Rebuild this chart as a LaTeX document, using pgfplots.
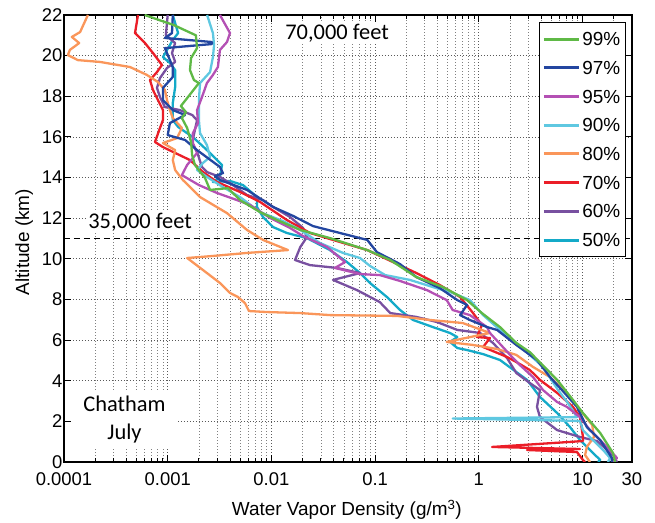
\documentclass[border=0pt]{standalone}
\usepackage{fontspec}
\setmainfont{Liberation Sans}
\newfontfamily\calibri{Carlito}
\usepackage{pgfplots}
\usepackage{pgfplotstable}
\pgfplotsset{compat=1.18}

\definecolor{c99}{RGB}{95,185,70}
\definecolor{c97}{RGB}{35,70,160}
\definecolor{c95}{RGB}{180,80,180}
\definecolor{c90}{RGB}{95,200,225}
\definecolor{c80}{RGB}{250,150,90}
\definecolor{c70}{RGB}{235,30,40}
\definecolor{c60}{RGB}{120,80,160}
\definecolor{c50}{RGB}{20,170,200}

\pgfplotstableread{
x y
6.0e-4 22.0
1.15e-3 21.5
1.87e-3 21.0
1.92e-3 20.37
1.68e-3 19.88
1.64e-3 19.29
1.79e-3 18.80
2.0e-3 18.65
1.54e-3 17.91
1.34e-3 17.52
1.50e-3 17.22
1.37e-3 16.93
1.54e-3 16.44
1.68e-3 15.75
1.72e-3 15.11
1.83e-3 14.62
2.29e-3 13.98
2.56e-3 13.39
3.81e-3 13.48
4.98e-3 12.89
7.76e-3 12.30
0.0113 11.91
0.019 11.42
0.0367 11.02
0.084 10.43
0.14 9.94
0.25 9.10
0.45 8.61
0.77 7.97
1.07 7.33
1.6 6.64
2.3 5.86
3.1 5.41
5.7 4.04
8.1 3.05
10.1 2.41
14.8 1.43
19.7 0.44
20.6 0.0
}\tnn

\pgfplotstableread{
x y
1.12e-3 22.0
1.10e-3 21.11
9.4e-4 20.87
2.67e-3 20.67
2.67e-3 20.57
9.4e-4 20.37
1.12e-3 19.44
1.12e-3 18.95
9.0e-4 18.41
9.0e-4 17.81
1.12e-3 17.32
1.47e-3 17.08
1.05e-3 16.68
1.0e-3 16.09
1.47e-3 15.85
1.92e-3 15.35
3.19e-3 14.52
3.41e-3 14.22
2.86e-3 14.07
3.19e-3 13.88
5.82e-3 13.39
0.0104 12.55
0.0162 12.11
0.0252 11.61
0.0459 11.27
0.084 10.93
0.104 10.33
0.174 9.74
0.25 9.10
0.42 8.56
0.62 7.97
0.77 7.73
0.66 7.23
0.82 6.99
1.20 6.64
1.50 6.50
2.3 5.76
3.64 5.02
4.86 4.18
6.34 3.54
8.85 2.71
11.0 1.72
14.8 1.08
19.2 0.2
19.2 0.0
}\tns

\pgfplotstableread{
x y
3.19e-3 22.0
3.99e-3 21.11
3.73e-3 20.67
3.19e-3 20.28
3.05e-3 19.44
2.73e-3 19.05
2.39e-3 18.65
2.14e-3 17.96
1.92e-3 17.32
1.96e-3 16.68
1.75e-3 16.19
1.75e-3 15.70
1.92e-3 15.21
1.54e-3 14.62
1.37e-3 14.12
2.0e-3 13.63
2.99e-3 13.24
4.66e-3 12.89
6.22e-3 12.65
9.7e-3 12.01
0.0151 11.52
0.0202 11.12
0.0344 10.58
0.0459 10.04
0.0513 9.84
0.041 9.55
0.0715 9.25
0.111 9.20
0.174 8.91
0.316 8.46
0.49 7.97
0.56 7.48
0.82 7.23
1.20 6.64
1.28 6.35
2.09 5.17
2.49 4.77
3.33 4.18
4.16 3.54
5.7 2.95
7.08 2.71
9.46 2.21
11.8 1.57
14.8 1.08
21.5 0.2
19.7 0.0
}\tnf

\pgfplotstableread{
x y
2.4e-3 22.0
2.73e-3 21.11
2.80e-3 20.52
2.73e-3 19.93
2.56e-3 19.19
2.05e-3 18.65
2.0e-3 17.81
2.0e-3 16.83
2.05e-3 16.19
2.39e-3 15.60
2.56e-3 15.01
2.19e-3 14.72
1.92e-3 14.37
2.39e-3 14.03
3.41e-3 13.53
4.98e-3 13.04
7.76e-3 12.30
0.0129 11.86
0.019 11.42
0.0294 10.78
0.049 10.29
0.0715 10.04
0.0893 9.65
0.125 9.20
0.217 8.96
0.361 8.61
0.56 8.32
0.82 7.97
1.10 7.23
1.6 6.50
2.3 5.86
4.16 4.68
5.81 3.54
7.24 2.90
8.85 2.21
0.56 2.14
9.46 2.02
10.1 1.57
12.6 1.08
15.8 0.59
18.4 0.2
17.6 0.0
}\tninety

\pgfplotstableread{
x y
1.70e-4 22.0
1.43e-4 21.16
1.19e-4 20.92
1.40e-4 20.62
1.14e-4 20.28
1.09e-4 20.03
1.36e-4 19.78
2.22e-4 19.69
4.33e-4 19.44
6.3e-4 19.05
8.06e-4 18.70
9.4e-4 18.31
9.85e-4 17.81
1.05e-3 17.32
1.12e-3 16.93
1.37e-3 16.44
1.23e-3 15.94
9.0e-4 15.70
1.18e-3 15.35
1.12e-3 14.86
1.18e-3 14.37
1.40e-3 13.88
2.05e-3 13.04
3.73e-3 12.25
5.82e-3 11.42
8.3e-3 10.93
0.01445 10.43
5.82e-3 10.29
2.73e-3 10.14
1.54e-3 10.04
2.39e-3 9.30
3.19e-3 8.81
3.99e-3 8.32
4.76e-3 8.12
5.56e-3 7.82
6.08e-3 7.43
9.07e-3 7.38
0.019 7.33
0.0367 7.23
0.163 7.19
0.338 6.99
0.70 6.84
1.28 6.35
0.49 5.91
0.88 5.76
1.50 5.56
2.3 5.27
3.33 4.68
4.86 4.18
7.08 3.40
9.46 2.56
12.4 1.82
12.9 1.23
11.0 0.74
10.6 0.34
11.8 0.0
}\teighty

\pgfplotstableread{
x y
5.17e-4 22.0
4.84e-4 21.11
6.04e-4 20.62
7.21e-4 20.13
8.81e-4 19.54
7.88e-4 19.19
6.75e-4 18.80
7.21e-4 18.31
8.06e-4 17.81
9.0e-4 17.32
9.0e-4 16.83
8.43e-4 16.44
7.54e-4 15.75
9.0e-4 15.50
1.18e-3 15.21
1.64e-3 14.86
2.19e-3 14.27
2.99e-3 13.78
4.98e-3 13.29
7.76e-3 12.80
0.0141 11.91
0.0236 11.27
0.0393 10.93
0.084 10.43
0.149 9.84
0.25 9.30
0.42 8.71
0.66 8.12
0.88 7.33
1.07 6.74
0.96 6.15
1.28 6.10
1.10 5.66
1.87 5.17
2.3 4.92
3.1 4.53
3.89 4.04
5.7 3.40
8.1 2.71
9.46 2.21
10.1 1.23
10.1 1.03
1.34 0.74
9.46 0.64
2.92 0.59
8.85 0.49
10.1 0.1
10.6 0.0
}\tseventy

\pgfplotstableread{
x y
1.0e-3 22.0
9.6e-4 21.01
1.18e-3 20.62
1.10e-3 20.13
1.18e-3 19.69
9.85e-4 19.39
8.43e-4 18.90
7.88e-4 18.41
8.43e-4 17.96
9.4e-4 17.47
1.31e-3 17.32
1.72e-3 17.08
1.92e-3 16.83
1.83e-3 16.34
1.72e-3 15.70
1.92e-3 15.26
2.14e-3 14.52
2.39e-3 14.27
3.19e-3 14.03
3.99e-3 13.73
5.82e-3 13.14
8.3e-3 12.89
0.0104 12.55
0.0151 12.06
0.0202 11.52
0.0220 11.07
0.019 10.58
0.0169 9.94
0.0236 9.69
0.043 9.55
0.0715 9.30
0.0393 8.96
0.0669 8.46
0.111 7.87
0.14 7.33
0.25 7.14
0.395 6.89
0.62 6.50
1.03 6.35
1.37 5.86
1.87 5.12
2.3 4.38
3.1 3.89
3.89 3.54
3.64 2.71
3.89 2.21
5.7 1.57
9.46 1.23
13.8 1.03
19.7 0.34
21.5 0.0
}\tsixty

\pgfplotstableread{
x y
1.12e-3 22.0
1.26e-3 21.11
1.12e-3 20.77
9.0e-4 19.93
1.05e-3 19.64
1.18e-3 19.29
1.18e-3 18.45
1.12e-3 17.67
1.12e-3 16.83
1.26e-3 16.49
1.75e-3 15.99
2.56e-3 15.21
3.34e-3 14.62
3.19e-3 14.03
2.73e-3 13.78
3.99e-3 13.83
5.32e-3 13.63
7.26e-3 13.04
7.26e-3 12.55
8.3e-3 12.06
0.0104 11.56
0.0141 11.27
0.0220 11.02
0.0367 10.43
0.0536 9.84
0.0715 9.30
0.0893 8.81
0.130 8.12
0.174 7.48
0.232 6.99
0.361 6.64
0.527 6.35
0.62 6.15
0.527 5.91
0.62 5.61
0.77 5.51
1.10 5.31
1.6 5.02
2.92 4.04
3.89 3.20
5.7 2.41
7.57 1.72
9.46 1.08
11.8 0.59
14.8 0.1
14.1 0.0
}\tfifty

\begin{document}
\begin{tikzpicture}
\begin{axis}[
  at={(0,0)}, anchor=south west,
  scale only axis, width=568bp, height=447bp,
  xmode=log, xmin=0.0001, xmax=30, ymin=0, ymax=22,
  xtick={0.0001,0.001,0.01,0.1,1,10,30},
  xticklabels={0.0001,0.001,0.01,0.1,1,10,30},
  minor xtick={0.0002,0.0003,0.0004,0.0005,0.0006,0.0007,0.0008,0.0009,
    0.002,0.003,0.004,0.005,0.006,0.007,0.008,0.009,
    0.02,0.03,0.04,0.05,0.06,0.07,0.08,0.09,
    0.2,0.3,0.4,0.5,0.6,0.7,0.8,0.9,
    2,3,4,5,6,7,8,9,20},
  ytick={0,2,4,6,8,10,12,14,16,18,20,22},
  yticklabels={0,2,4,6,8,10,12,14,16,18,20,22},
  grid=both,
  major grid style={line width=0.8bp, dash pattern=on 1bp off 2bp, color=black!65},
  minor grid style={line width=0.7bp, dash pattern=on 1bp off 2bp, color=black!50},
  major tick length=7bp, minor tick length=4bp,
  tick style={black, line width=1bp},
  axis line style={line width=1.5bp},
  tick label style={font=\fontsize{18.5}{20}\selectfont},
  xticklabel style={yshift=-7bp},
  yticklabel style={xshift=2bp},
  xlabel={Water Vapor Density (g/m\textsuperscript{3})},
  ylabel={Altitude (km)},
  label style={font=\fontsize{19}{22}\selectfont},
  xlabel style={at={(axis description cs:0.498,-0.107)}, anchor=center},
  ylabel style={at={(axis description cs:-0.07,0.492)}, anchor=center, rotate=0},
  every axis plot/.append style={line width=2.3bp, line join=round},
  reverse legend,
  legend style={at={(rel axis cs:0.9894,0.9843)}, anchor=north east,
    draw=black, line width=1.3bp, fill=white,
    font=\fontsize{19}{20}\selectfont,
    inner xsep=3bp, inner ysep=8bp, row sep=11.7bp,
    nodes={inner sep=2bp, text height=13bp, text depth=0bp},
    cells={anchor=west}},
  legend image code/.code={\draw[#1, line width=3bp] (0bp,0bp) -- (35bp,0bp);},
]
\addplot[black, line width=1bp, dash pattern=on 6bp off 4bp, forget plot] coordinates {(0.0001,11) (30,11)};
\addplot[c50] table {\tfifty}; \addlegendentry{50\%}
\addplot[c60] table {\tsixty}; \addlegendentry{60\%}
\addplot[c70] table {\tseventy}; \addlegendentry{70\%}
\addplot[c80] table {\teighty}; \addlegendentry{80\%}
\addplot[c90] table {\tninety}; \addlegendentry{90\%}
\addplot[c95] table {\tnf}; \addlegendentry{95\%}
\addplot[c97] table {\tns}; \addlegendentry{97\%}
\addplot[c99] table {\tnn}; \addlegendentry{99\%}
\node[fill=white, inner sep=2bp, font=\calibri\fontsize{22.5}{27}\selectfont] at (axis cs:0.043,21.11) {70,000 feet};
\node[fill=white, inner sep=2bp, font=\calibri\fontsize{22.5}{27}\selectfont] at (axis cs:5.41e-4,11.81) {35,000 feet};
\node[fill=white, inner xsep=12bp, inner ysep=6bp, align=center, font=\calibri\fontsize{22.5}{28}\selectfont] at (axis cs:3.83e-4,2.07) {Chatham\\July};
\end{axis}
\pgfresetboundingbox
\path (-64bp,-61bp) rectangle (591bp,462bp);
\end{tikzpicture}
\end{document}
